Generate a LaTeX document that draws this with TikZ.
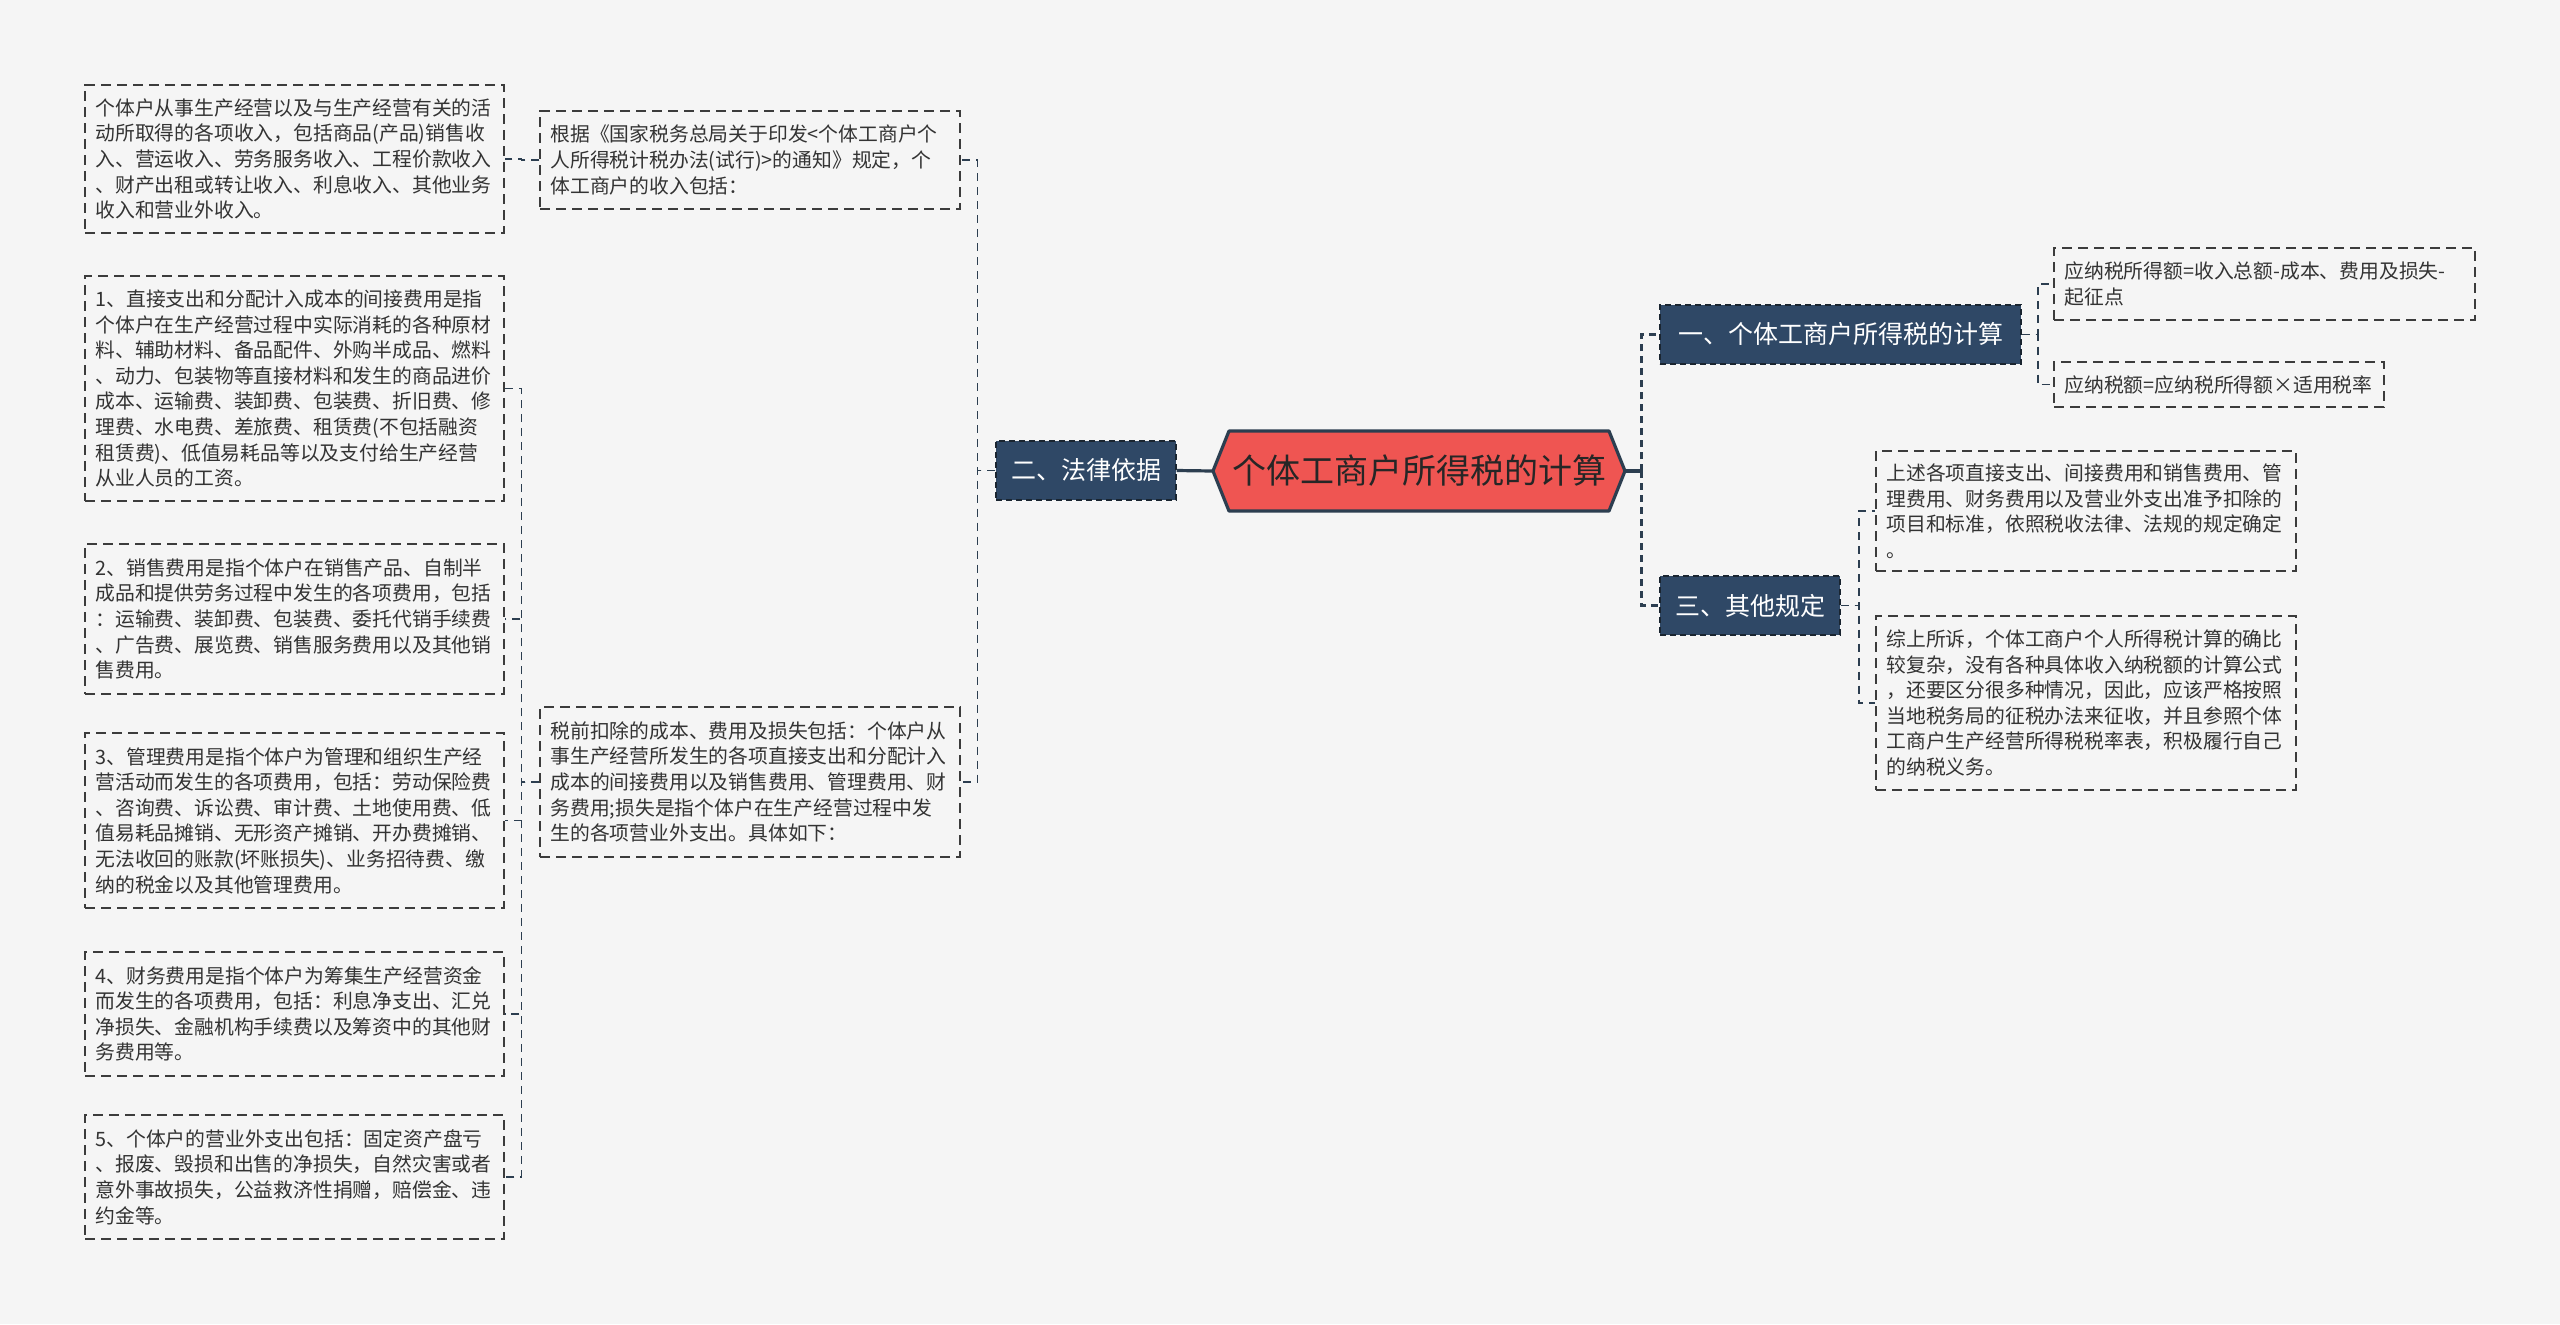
\documentclass[tikz,border=0pt]{standalone}
\usepackage{fontspec}
\setmainfont{Noto Sans CJK SC}
\usepackage{tikz}
\usetikzlibrary{calc}

\definecolor{bgcol}{HTML}{F5F5F5}
\definecolor{rootred}{HTML}{EF5552}
\definecolor{navy}{HTML}{2F4866}
\definecolor{linecol}{HTML}{2C3E50}
\definecolor{boxline}{HTML}{3C3C3C}
\definecolor{leaftext}{HTML}{333333}

\tikzset{
    leaf/.style={draw=boxline, line width=0.7pt, dash pattern=on 5pt off 3pt, text=leaftext, align=left,
        inner xsep=5.2pt, inner ysep=4pt, font=\fontsize{9.9pt}{12.8pt}\selectfont},
    branch/.style={fill=navy, draw=linecol!60!black, line width=0.6pt, dash pattern=on 3pt off 2pt,
        text=white, minimum height=29.5pt, inner xsep=0pt, font=\fontsize{12.5pt}{15pt}\selectfont},
    link/.style={draw=linecol, line width=0.9pt, dash pattern=on 4pt off 3pt},
    spine/.style={draw=linecol, line width=1.6pt, dash pattern=on 3.5pt off 2.5pt},
    trunk/.style={draw=linecol, line width=1.6pt},
    hexagon/.style={fill=rootred, draw=linecol, line width=1.6pt, line join=round},
    roottext/.style={minimum width=206pt, minimum height=40pt, inner sep=0pt, text=black!85,
        font=\fontsize{17pt}{20pt}\selectfont}
}

% root topic: hexagon drawn first, text node on top
\newcommand{\drawhexnode}[3]{
    \begin{scope}[shift={(#2)}]
        \filldraw [hexagon] (-206,0) -- (-190,-40) -- (190,-40) -- (206,0) -- (190,40) -- (-190,40) -- cycle;
        \node [roottext] (#1) at (0,0) {#3};
    \end{scope}
}

\begin{document}
\begin{tikzpicture}[x=0.5pt, y=-0.5pt]
    \useasboundingbox (0,0) rectangle (2560,1324);
    \fill [bgcol] (0,0) rectangle (2560,1324);

    \drawhexnode{root}{1419,471}{个体工商户所得税的计算};

    % main branches
    \node [branch, minimum width=90pt]    (law)   at (1086,470.5) {二、法律依据};
    \node [branch, minimum width=180.5pt] (one)   at (1840.5,334.5) {一、个体工商户所得税的计算};
    \node [branch, minimum width=90pt]    (three) at (1750,605.5) {三、其他规定};

    % right side
    \node [leaf, text width=200pt, minimum height=36pt] (l1) at (2264.5,284) {应纳税所得额=收入总额-成本、费用及损失-\\起征点};
    \node [leaf, text width=154.5pt, minimum height=22.5pt] (l2) at (2219,384.5) {应纳税额=应纳税所得额×适用税率};
    \node [leaf, text width=199.5pt, minimum height=60pt] (l3) at (2086,511) {上述各项直接支出、间接费用和销售费用、管\\理费用、财务费用以及营业外支出准予扣除的\\项目和标准，依照税收法律、法规的规定确定\\。};
    \node [leaf, text width=199.5pt, minimum height=87pt] (l4) at (2086,703) {综上所诉，个体工商户个人所得税计算的确比\\较复杂，没有各种具体收入纳税额的计算公式\\，还要区分很多种情况，因此，应该严格按照\\当地税务局的征税办法来征收，并且参照个体\\工商户生产经营所得税税率表，积极履行自己\\的纳税义务。};

    % left side, middle level
    \node [leaf, text width=199.5pt, minimum height=49pt] (m1) at (750,160) {根据《国家税务总局关于印发<个体工商户个\\人所得税计税办法(试行)>的通知》规定，个\\体工商户的收入包括：};
    \node [leaf, text width=199.5pt, minimum height=75pt] (m2) at (750,782) {税前扣除的成本、费用及损失包括：个体户从\\事生产经营所发生的各项直接支出和分配计入\\成本的间接费用以及销售费用、管理费用、财\\务费用;损失是指个体户在生产经营过程中发\\生的各项营业外支出。具体如下：};

    % left side, outer level
    \node [leaf, text width=199pt, minimum height=74pt] (f0) at (294.5,159) {个体户从事生产经营以及与生产经营有关的活\\动所取得的各项收入，包括商品(产品)销售收\\入、营运收入、劳务服务收入、工程价款收入\\、财产出租或转让收入、利息收入、其他业务\\收入和营业外收入。};
    \node [leaf, text width=199pt, minimum height=112.5pt] (f1) at (294.5,388.5) {1、直接支出和分配计入成本的间接费用是指\\个体户在生产经营过程中实际消耗的各种原材\\料、辅助材料、备品配件、外购半成品、燃料\\、动力、包装物等直接材料和发生的商品进价\\成本、运输费、装卸费、包装费、折旧费、修\\理费、水电费、差旅费、租赁费(不包括融资\\租赁费)、低值易耗品等以及支付给生产经营\\从业人员的工资。};
    \node [leaf, text width=199pt, minimum height=75pt] (f2) at (294.5,619) {2、销售费用是指个体户在销售产品、自制半\\成品和提供劳务过程中发生的各项费用，包括\\：运输费、装卸费、包装费、委托代销手续费\\、广告费、展览费、销售服务费用以及其他销\\售费用。};
    \node [leaf, text width=199pt, minimum height=87.5pt] (f3) at (294.5,820.5) {3、管理费用是指个体户为管理和组织生产经\\营活动而发生的各项费用，包括：劳动保险费\\、咨询费、诉讼费、审计费、土地使用费、低\\值易耗品摊销、无形资产摊销、开办费摊销、\\无法收回的账款(坏账损失)、业务招待费、缴\\纳的税金以及其他管理费用。};
    \node [leaf, text width=199pt, minimum height=62pt] (f4) at (294.5,1014) {4、财务费用是指个体户为筹集生产经营资金\\而发生的各项费用，包括：利息净支出、汇兑\\净损失、金融机构手续费以及筹资中的其他财\\务费用等。};
    \node [leaf, text width=199pt, minimum height=62pt] (f5) at (294.5,1177) {5、个体户的营业外支出包括：固定资产盘亏\\、报废、毁损和出售的净损失，自然灾害或者\\意外事故损失，公益救济性捐赠，赔偿金、违\\约金等。};

    % connectors
    \draw [trunk] (root.west) -- (law.east);
    \draw [trunk] (root.east) -- ++(16,0) coordinate (rfork);
    \draw [spine] (rfork) |- (one.west);
    \draw [spine] (rfork) |- (three.west);
    \draw [link] (one.east) -- ++(16,0) |- (l1.west);
    \draw [link] (one.east) -- ++(16,0) |- (l2.west);
    \draw [link] (three.east) -- ++(18,0) |- (l3.west);
    \draw [link] (three.east) -- ++(18,0) |- (l4.west);
    \draw [link] (law.west) -- ++(-18,0) |- (m1.east);
    \draw [link] (law.west) -- ++(-18,0) |- (m2.east);
    \draw [link] (m1.west) -- ++(-18,0) |- (f0.east);
    \foreach \f in {f1,f2,f3,f4,f5}
        \draw [link] (m2.west) -- ++(-18,0) |- (\f.east);
\end{tikzpicture}
\end{document}
